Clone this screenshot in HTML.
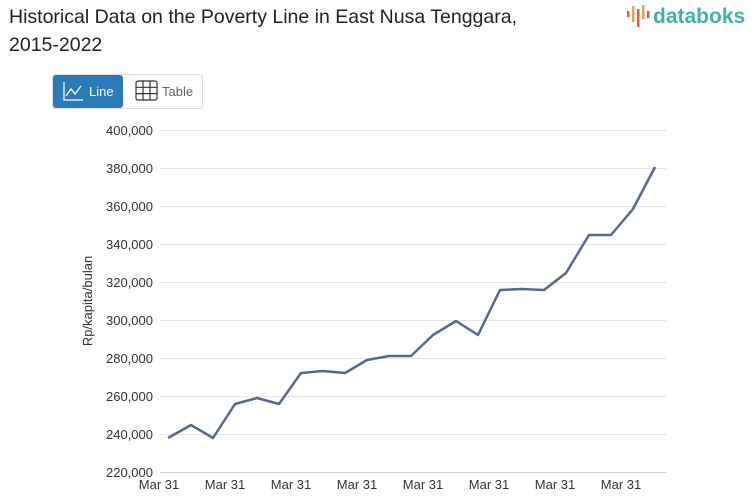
<!DOCTYPE html>
<html><head><meta charset="utf-8"><style>
body{margin:0;width:753px;height:498px;background:#fff;font-family:"Liberation Sans",sans-serif;overflow:hidden;position:relative}
.t{position:absolute;left:9px;top:3px;font-size:19.5px;line-height:28px;color:#222}
</style></head><body>
<div class="t">Historical Data on the Poverty Line in East Nusa Tenggara,<br>2015-2022</div>
<svg width="753" height="498" style="position:absolute;left:0;top:0" font-family="Liberation Sans, sans-serif">
<g fill="#e85a4f"><rect x="627" y="11" width="2.5" height="6"/><rect x="632" y="6" width="2.5" height="16" fill="#f0a04b"/><rect x="637" y="9" width="2.5" height="18"/><rect x="642" y="5" width="2.5" height="14" fill="#f0a04b"/><rect x="647" y="11" width="2.5" height="7"/></g>
<text x="653" y="23" font-size="21" fill="#3fb3a8" font-weight="bold">databoks</text>
<rect x="52.5" y="74.5" width="150" height="34" rx="3" fill="#fff" stroke="#ddd"/>
<rect x="53" y="75" width="70" height="33" rx="3" fill="#2a7ab8"/>
<path d="M64,82V100H83M66,96l5,-7 4,5 6,-8" fill="none" stroke="#fff" stroke-width="1.3"/>
<text x="89" y="96" font-size="13" fill="#fff">Line</text>
<g stroke="#333" stroke-width="1.2" fill="none"><rect x="136" y="81" width="21" height="19" rx="2"/><path d="M143,81V100M150,81V100M136,87.3H157M136,93.6H157"/></g>
<text x="162" y="96" font-size="13" fill="#666">Table</text>
<g stroke="#e3e3e3" stroke-width="1">
<line x1="160" x2="666" y1="130.5" y2="130.5"/><line x1="160" x2="666" y1="168.5" y2="168.5"/><line x1="160" x2="666" y1="206.5" y2="206.5"/><line x1="160" x2="666" y1="244.5" y2="244.5"/><line x1="160" x2="666" y1="282.5" y2="282.5"/><line x1="160" x2="666" y1="320.5" y2="320.5"/><line x1="160" x2="666" y1="358.5" y2="358.5"/><line x1="160" x2="666" y1="396.5" y2="396.5"/><line x1="160" x2="666" y1="434.5" y2="434.5"/><line x1="160" x2="666" y1="472.5" y2="472.5" stroke="#ccc"/>
</g>
<g font-size="13" fill="#333" text-anchor="end">
<text x="153" y="135">400,000</text><text x="153" y="173">380,000</text><text x="153" y="211">360,000</text><text x="153" y="249">340,000</text><text x="153" y="287">320,000</text><text x="153" y="325">300,000</text><text x="153" y="363">280,000</text><text x="153" y="401">260,000</text><text x="153" y="439">240,000</text><text x="153" y="477">220,000</text>
</g>
<text transform="translate(92,301) rotate(-90)" font-size="13" fill="#333" text-anchor="middle">Rp/kapita/bulan</text>
<g font-size="13" fill="#333" text-anchor="middle">
<text x="159" y="489">Mar 31</text><text x="225" y="489">Mar 31</text><text x="291" y="489">Mar 31</text><text x="357" y="489">Mar 31</text><text x="423" y="489">Mar 31</text><text x="489" y="489">Mar 31</text><text x="555" y="489">Mar 31</text><text x="621" y="489">Mar 31</text>
</g>
<polyline fill="none" stroke="#56698a" stroke-width="2.5" stroke-linejoin="round" points="168,438 191,425 213,438 235,404 257,398 279,404 301,373 323,371 345,373 367,360 389,356 411,356 433,335 456,321 478,335 500,290 522,289 544,290 566,273 589,235 611,235 633,209 655,167"/>
</svg>
</body></html>
